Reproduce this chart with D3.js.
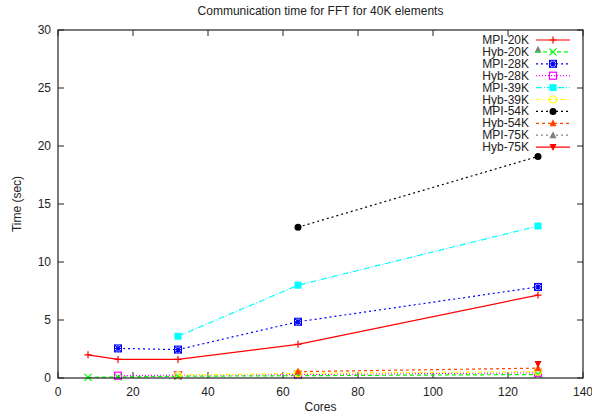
<!DOCTYPE html>
<html>
<head>
<meta charset="utf-8">
<script src="https://cdn.jsdelivr.net/npm/d3@7"></script>
<style>
  body { margin: 0; background: #fff; }
  text { font-family: "Liberation Sans", Arial, sans-serif; }
</style>
</head>
<body>
<div id="chart"></div>
<script>
// Series names, core counts and timings (sec)
const seriesNames = ["MPI-20K", "Hyb-20K", "MPI-28K", "Hyb-28K", "MPI-39K",
                     "Hyb-39K", "MPI-54K", "Hyb-54K", "MPI-75K", "Hyb-75K"];
const coresMPI20 = [8, 16, 32, 64, 128];
const timeMPI20 = [2.0, 1.6, 1.6, 2.9, 7.15];
const coresHyb20 = [8, 16, 32, 64, 128];
const timeHyb20 = [0.05, 0.1, 0.15, 0.2, 0.3];
const coresMPI28 = [16, 32, 64, 128];
const timeMPI28 = [2.55, 2.45, 4.85, 7.85];
const coresHyb28 = [16, 32, 64, 128];
const timeHyb28 = [0.2, 0.25, 0.3, 0.45];
const coresMPI39 = [32, 64, 128];
const timeMPI39 = [3.6, 8.0, 13.1];
const coresHyb39 = [32, 64, 128];
const timeHyb39 = [0.25, 0.4, 0.55];
const coresMPI54 = [64, 128];
const timeMPI54 = [13.0, 19.1];
const coresHyb54 = [64, 128];
const timeHyb54 = [0.55, 0.85];
const coresMPI75 = [128];
const timeMPI75 = [28.3];
const coresHyb75 = [128];
const timeHyb75 = [1.2];

const xTicks = [0, 20, 40, 60, 80, 100, 120, 140];
const yTicks = [0, 5, 10, 15, 20, 25, 30];

// gnuplot-like line styles
const styles = [
  { color: "#ff0000", dash: null, pt: "plus" },
  { color: "#00ff00", dash: "4,3", pt: "cross" },
  { color: "#0000ff", dash: "2,3", pt: "star" },
  { color: "#ff00ff", dash: "1,2", pt: "box" },
  { color: "#00ffff", dash: "6,2,1,2", pt: "fbox" },
  { color: "#ffff00", dash: "4,2,1,2,1,2", pt: "circle" },
  { color: "#000000", dash: "2,3", pt: "fcircle" },
  { color: "#ff4500", dash: "3,3", pt: "ftri" },
  { color: "#808080", dash: "2,3", pt: "ftri" },
  { color: "#ff0000", dash: null, pt: "finvtri" }
];

const allX = [coresMPI20, coresHyb20, coresMPI28, coresHyb28, coresMPI39,
              coresHyb39, coresMPI54, coresHyb54, coresMPI75, coresHyb75];
const allY = [timeMPI20, timeHyb20, timeMPI28, timeHyb28, timeMPI39,
              timeHyb39, timeMPI54, timeHyb54, timeMPI75, timeHyb75];

const series = seriesNames.map((name, i) => ({
  name: name,
  style: styles[i],
  values: allX[i].map((c, j) => ({ x: c, y: allY[i][j] }))
}));

const width = 592, height = 415;
const margin = { top: 30, right: 9, bottom: 37, left: 58 };

const svg = d3.select("#chart").append("svg")
  .attr("width", width)
  .attr("height", height);

const x = d3.scaleLinear().domain([0, 140]).range([margin.left, width - margin.right]);
const y = d3.scaleLinear().domain([0, 30]).range([height - margin.bottom, margin.top]);

// draw a point marker of the given type
function marker(g, type, color) {
  const s = 3.5;
  if (type === "plus") {
    g.append("path").attr("d", `M${-s},0H${s}M0,${-s}V${s}`)
      .attr("stroke", color).attr("stroke-width", 1.2).attr("fill", "none");
  } else if (type === "cross") {
    g.append("path").attr("d", `M${-s},${-s}L${s},${s}M${-s},${s}L${s},${-s}`)
      .attr("stroke", color).attr("stroke-width", 1.2).attr("fill", "none");
  } else if (type === "star") {
    g.append("path").attr("d", `M${-s},${-s}L${s},${s}M${-s},${s}L${s},${-s}M${-s},0H${s}M0,${-s}V${s}`)
      .attr("stroke", color).attr("stroke-width", 1.2).attr("fill", "none");
    g.append("rect").attr("x", -s).attr("y", -s).attr("width", 2 * s).attr("height", 2 * s)
      .attr("stroke", color).attr("fill", "none");
  } else if (type === "box") {
    g.append("rect").attr("x", -s).attr("y", -s).attr("width", 2 * s).attr("height", 2 * s)
      .attr("stroke", color).attr("stroke-width", 1.2).attr("fill", "none");
  } else if (type === "fbox") {
    g.append("rect").attr("x", -s).attr("y", -s).attr("width", 2 * s).attr("height", 2 * s)
      .attr("fill", color);
  } else if (type === "circle") {
    g.append("circle").attr("r", s).attr("stroke", color).attr("stroke-width", 1.2).attr("fill", "none");
  } else if (type === "fcircle") {
    g.append("circle").attr("r", s).attr("fill", color);
  } else if (type === "ftri") {
    g.append("path").attr("d", `M0,${-s - 0.5}L${s},${s - 0.5}L${-s},${s - 0.5}Z`).attr("fill", color);
  } else if (type === "finvtri") {
    g.append("path").attr("d", `M0,${s + 0.5}L${s},${-s + 0.5}L${-s},${-s + 0.5}Z`).attr("fill", color);
  }
}

// ticks (inside, mirrored on the opposite border)
const tickLen = 6;
const axes = svg.append("g").attr("stroke", "#222").attr("stroke-width", 1);
xTicks.forEach(t => {
  axes.append("line").attr("x1", x(t)).attr("x2", x(t))
    .attr("y1", y(0)).attr("y2", y(0) - tickLen);
  axes.append("line").attr("x1", x(t)).attr("x2", x(t))
    .attr("y1", y(30)).attr("y2", y(30) + tickLen);
});
yTicks.forEach(t => {
  axes.append("line").attr("x1", x(0)).attr("x2", x(0) + tickLen)
    .attr("y1", y(t)).attr("y2", y(t));
  axes.append("line").attr("x1", x(140)).attr("x2", x(140) - tickLen)
    .attr("y1", y(t)).attr("y2", y(t));
});

svg.append("g").selectAll("text").data(xTicks).enter().append("text")
  .attr("x", d => x(d)).attr("y", y(0) + 18)
  .attr("text-anchor", "middle").attr("font-size", 12).attr("fill", "#222")
  .text(d => d);

svg.append("g").selectAll("text").data(yTicks).enter().append("text")
  .attr("x", x(0) - 7).attr("y", d => y(d) + 4)
  .attr("text-anchor", "end").attr("font-size", 12).attr("fill", "#222")
  .text(d => d);

// data lines
const line = d3.line().x(d => x(d.x)).y(d => y(d.y));

series.forEach(s => {
  svg.append("path").datum(s.values)
    .attr("d", line)
    .attr("fill", "none")
    .attr("stroke", s.style.color)
    .attr("stroke-width", 1.2)
    .attr("stroke-dasharray", s.style.dash);
  s.values.forEach(v => {
    const g = svg.append("g").attr("transform", `translate(${x(v.x)},${y(v.y)})`);
    marker(g, s.style.pt, s.style.color);
  });
});

// border
svg.append("rect")
  .attr("x", x(0)).attr("y", y(30))
  .attr("width", x(140) - x(0)).attr("height", y(0) - y(30))
  .attr("fill", "none").attr("stroke", "#222").attr("stroke-width", 1.2);

// legend
const legend = svg.append("g").attr("transform", "translate(529, 40)");
const legendItems = legend.selectAll(".legend-item").data(series).enter().append("g")
  .attr("class", "legend-item")
  .attr("transform", (d, i) => `translate(0, ${i * 11.9})`);

legendItems.append("text")
  .attr("x", 0).attr("y", 4)
  .attr("text-anchor", "end").attr("font-size", 12).attr("fill", "#222")
  .text(d => d.name);

legendItems.append("line")
  .attr("x1", 7).attr("x2", 41).attr("y1", 0).attr("y2", 0)
  .attr("stroke", d => d.style.color)
  .attr("stroke-width", 1.2)
  .attr("stroke-dasharray", d => d.style.dash);

legendItems.each(function (d) {
  const g = d3.select(this).append("g").attr("transform", "translate(24,0)");
  marker(g, d.style.pt, d.style.color);
});

// titles
svg.append("text")
  .attr("x", (x(0) + x(140)) / 2).attr("y", 15)
  .attr("text-anchor", "middle").attr("font-size", 12).attr("fill", "#222")
  .text("Communication time for FFT for 40K elements");

svg.append("text")
  .attr("x", (x(0) + x(140)) / 2).attr("y", 411)
  .attr("text-anchor", "middle").attr("font-size", 12).attr("fill", "#222")
  .text("Cores");

svg.append("text")
  .attr("transform", `translate(21, ${(y(0) + y(30)) / 2}) rotate(-90)`)
  .attr("text-anchor", "middle").attr("font-size", 12).attr("fill", "#222")
  .text("Time (sec)");
</script>
</body>
</html>
